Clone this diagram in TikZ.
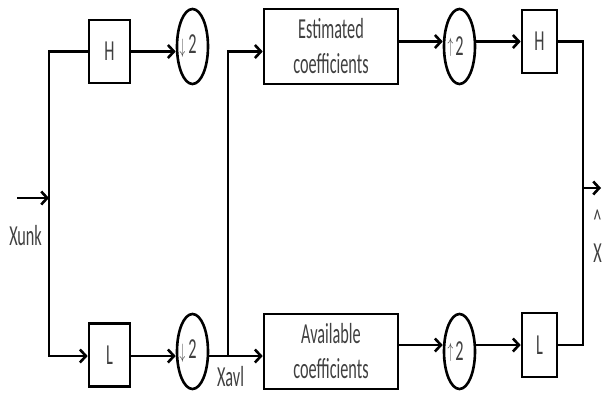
\documentclass[tikz,border=0pt]{standalone}
\usepackage{fontspec}
\setmainfont[FakeStretch=0.56]{Carlito}
\usetikzlibrary{arrows.meta,shapes.geometric}

\newcommand{\dnarr}{\llap{\raisebox{0pt}{\scalebox{0.55}[1]{\fontsize{20}{20}\selectfont$\downarrow$}}\hspace{3pt}}}
\newcommand{\uparr}{\llap{\raisebox{3pt}{\scalebox{0.55}[1]{\fontsize{20}{20}\selectfont$\uparrow$}}\hspace{2pt}}}

\begin{document}
\begin{tikzpicture}[x=1pt,y=-1pt,line width=2.6pt,
    >={Straight Barb[length=6pt,width=13pt]},
    font=\fontsize{29}{35}\selectfont, text=black!75,
    filt/.style={draw,rectangle,inner sep=0pt,minimum width=41pt,minimum height=63pt},
    coef/.style={draw,rectangle,inner sep=0pt,minimum width=134pt,minimum height=75pt,align=center},
    samp/.style={draw,ellipse,inner sep=0pt,minimum width=31pt,minimum height=75pt},
    lbl/.style={inner sep=0pt}]
    \useasboundingbox (0,0) rectangle (602,392);

    % analysis side
    \node[filt] (hA) at (109.5,51.5) {H};
    \node[filt] (lA) at (109.5,355) {L};
    \node[samp] (dnA) at (192.5,46.5) {\dnarr 2};
    \node[samp] (dnB) at (192.5,351.5) {\dnarr 2};

    % coefficients
    \node[coef] (est) at (331,46.5) {Estimated\\coefficients};
    \node[coef] (avl) at (331,351.5) {Available\\coefficients};

    % synthesis side
    \node[samp] (upA) at (459.5,46.5) {\uparr 2};
    \node[samp] (upB) at (459.5,351.5) {\uparr 2};
    \node[filt,minimum width=35pt] (hB) at (539.5,41.5) {H};
    \node[filt,minimum width=35pt,minimum height=64pt] (lB) at (539.5,345) {L};

    \coordinate (inA) at (17,198);
    \coordinate (splitM) at (49,198);
    \coordinate (splitB) at (49,356);
    \coordinate (avlJ) at (228,356);
    \coordinate (outM) at (583,188);
    \coordinate (outA) at (601,188);

    \draw[->] (inA) -- (splitM);
    \draw[->] (hA.west) -| (splitB) -- (lA.west |- splitB);
    \draw[->] (hA) -- (hA -| dnA.west);
    \draw[->] (lA.east |- splitB) -- (dnB.west |- splitB);
    \draw[->] (dnB.east |- avlJ) -- (avl.west |- avlJ);
    \draw[->] (avlJ) |- (est.west |- hA);

    \draw[->] (est.east |- hB) -- (upA.west |- hB);
    \draw[->] (upA.east |- hB) -- (hB);
    \draw[->] (avl.east |- lB) -- (upB.west |- lB);
    \draw[->] (upB.east |- lB) -- (lB);

    \draw (hB.east) -- (hB.east -| outM) -- (lB.east -| outM) -- (lB.east);
    \draw[->] (outM) -- (outA);

    \node[lbl,anchor=base west] (xunk) at (8,245) {Xunk};
    \node[lbl,anchor=base] (xavl) at (230.5,386) {Xavl};
    \node[lbl,anchor=north] (hat) at (597.5,209) {\textasciicircum};
    \node[lbl,anchor=base] (xhat) at (597.5,262) {X};
\end{tikzpicture}
\end{document}
